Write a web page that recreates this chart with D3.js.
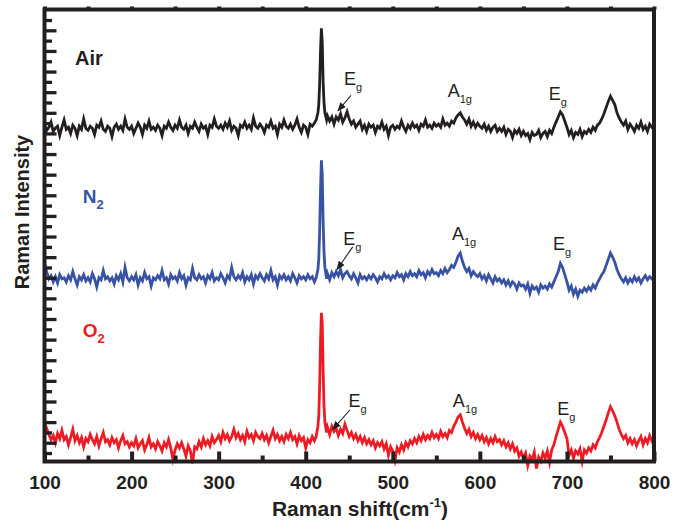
<!DOCTYPE html>
<html>
<head>
<meta charset="utf-8">
<script src="https://cdn.jsdelivr.net/npm/d3@7"></script>
<style>
  html, body { margin: 0; padding: 0; background: #fff; }
  svg { display: block; font-family: "Liberation Sans", Arial, Helvetica, sans-serif; }
</style>
</head>
<body>
<svg id="chart" width="673" height="523"></svg>
<script>
// Raman shift sampling grid (cm^-1), finer across the 418 cm^-1 band
const shift = [
  100,102.5,105,107.5,110,112.5,115,117.5,120,122.5,
  125,127.5,130,132.5,135,137.5,140,142.5,145,147.5,
  150,152.5,155,157.5,160,162.5,165,167.5,170,172.5,
  175,177.5,180,182.5,185,187.5,190,192.5,195,197.5,
  200,202.5,205,207.5,210,212.5,215,217.5,220,222.5,
  225,227.5,230,232.5,235,237.5,240,242.5,245,247.5,
  250,252.5,255,257.5,260,262.5,265,267.5,270,272.5,
  275,277.5,280,282.5,285,287.5,290,292.5,295,297.5,
  300,302.5,305,307.5,310,312.5,315,317.5,320,322.5,
  325,327.5,330,332.5,335,337.5,340,342.5,345,347.5,
  350,352.5,355,357.5,360,362.5,365,367.5,370,372.5,
  375,377.5,380,382.5,385,387.5,390,392.5,395,397.5,
  400,402.5,405,407.5,410,
  412,414,415,416,417,418,419,420,421,422,424,
  425,427.5,430,432.5,435,437.5,440,442.5,445,447.5,
  450,452.5,455,457.5,460,462.5,465,467.5,470,472.5,
  475,477.5,480,482.5,485,487.5,490,492.5,495,497.5,
  500,502.5,505,507.5,510,512.5,515,517.5,520,522.5,
  525,527.5,530,532.5,535,537.5,540,542.5,545,547.5,
  550,552.5,555,557.5,560,562.5,565,567.5,570,572.5,
  575,577.5,580,582.5,585,587.5,590,592.5,595,597.5,
  600,602.5,605,607.5,610,612.5,615,617.5,620,622.5,
  625,627.5,630,632.5,635,637.5,640,642.5,645,647.5,
  650,652.5,655,657.5,660,662.5,665,667.5,670,672.5,
  675,677.5,680,682.5,685,687.5,690,692.5,695,697.5,
  700,702.5,705,707.5,710,712.5,715,717.5,720,722.5,
  725,727.5,730,732.5,735,737.5,740,742.5,745,747.5,
  750,752.5,755,757.5,760,762.5,765,767.5,770,772.5,
  775,777.5,780,782.5,785,787.5,790,792.5,795,797.5,
  800
];

// Spectra (arbitrary units, stacked with vertical offsets)
const airIntensity = [
  31.8,31.3,31.6,32.1,31.2,31.5,31.7,30.8,31.6,32.3,
  31.4,31.6,31.0,31.8,31.5,30.8,31.7,31.4,32.4,31.5,
  31.3,31.7,31.5,30.9,31.8,31.6,32.2,31.4,31.2,31.7,
  31.5,30.7,31.6,31.9,31.4,31.7,31.3,32.4,31.6,31.4,
  31.7,31.0,31.5,32.0,31.6,30.9,31.8,31.5,32.2,31.4,
  31.6,31.3,31.8,31.5,30.8,31.7,31.5,32.1,31.6,31.3,
  31.8,31.5,32.3,31.6,31.4,31.8,31.0,31.7,31.5,32.1,
  31.6,31.2,31.9,31.5,31.7,30.9,31.8,31.6,32.4,31.7,
  31.5,31.8,31.4,32.0,31.6,32.2,31.3,31.7,31.5,30.8,
  31.8,31.6,32.1,31.5,31.8,31.4,32.5,31.7,31.5,31.9,
  31.6,31.1,31.8,31.6,32.2,31.5,31.7,30.9,31.9,31.6,
  32.3,31.7,31.5,31.9,31.4,31.8,32.4,31.6,31.1,31.8,
  31.6,30.9,31.9,31.7,32.0,
  32.3,33.0,33.8,35.8,39.0,41.2,39.8,36.0,34.0,33.0,32.3,
  32.7,32.2,32.6,31.9,32.6,32.3,32.9,32.1,32.5,33.1,
  32.4,31.9,32.2,31.6,31.9,32.2,31.4,31.8,31.2,31.9,
  31.6,31.8,31.1,31.7,31.5,32.1,31.4,31.7,30.8,31.6,
  31.8,31.4,31.7,31.5,32.2,31.6,31.2,31.8,31.5,32.0,
  31.6,31.8,31.3,31.9,31.7,32.3,31.6,31.8,31.5,32.0,
  31.7,31.9,31.6,32.4,31.8,32.0,31.7,32.2,32.0,32.5,
  32.8,33.0,32.6,32.3,31.9,32.4,31.7,32.1,31.6,32.0,
  31.7,31.5,31.9,31.3,31.7,31.2,31.6,31.8,31.2,31.5,
  31.2,31.6,30.9,31.4,31.2,30.6,31.3,31.0,31.4,30.8,
  31.2,30.8,31.0,30.4,31.1,30.8,30.9,31.3,30.6,31.0,
  31.2,30.7,31.3,31.0,31.6,32.1,32.6,33.1,32.8,32.2,
  31.6,30.9,31.3,30.6,31.1,30.9,31.4,30.7,31.2,31.0,
  31.4,31.1,31.6,31.3,31.8,32.0,32.4,32.9,33.5,34.1,
  34.6,34.2,33.8,33.0,32.5,32.1,31.8,32.2,31.4,31.9,
  31.6,31.2,31.8,31.5,32.1,31.4,31.7,31.2,31.9,31.6,
  31.8
];
const n2Intensity = [
  18.4,17.6,16.9,17.2,16.6,17.1,16.5,17.3,16.9,17.0,
  16.6,17.2,16.8,17.6,16.9,16.3,17.1,16.8,17.3,16.7,
  17.0,16.6,17.4,16.9,16.1,17.0,16.8,17.7,16.9,17.1,
  16.7,17.0,16.4,17.2,16.8,17.4,16.6,18.0,17.0,16.7,
  17.1,16.8,17.3,16.3,17.0,16.7,17.5,16.9,17.1,16.2,
  17.0,16.8,17.2,16.9,17.7,16.8,17.0,16.4,17.3,16.9,
  17.1,16.7,17.5,16.9,17.2,16.3,17.0,16.8,17.9,17.0,
  16.8,17.3,16.9,17.1,16.5,17.2,16.9,17.5,16.7,17.0,
  16.8,17.4,17.0,16.5,17.2,16.9,18.0,17.1,16.8,17.2,
  16.9,17.5,16.6,17.1,16.8,17.3,16.4,17.2,16.9,17.4,
  17.0,16.7,17.3,16.9,17.7,16.8,17.1,16.3,17.2,16.9,
  17.3,16.8,17.1,16.7,17.4,17.0,16.5,17.2,16.9,17.1,
  16.8,17.3,16.9,17.1,16.6,
  17.0,17.8,18.8,21.5,25.5,28.4,27.0,22.5,19.5,18.0,16.9,
  17.4,16.8,17.5,17.1,17.6,17.2,17.8,17.0,17.4,17.6,
  17.2,16.9,17.4,17.0,16.5,17.3,16.9,17.1,16.8,17.2,
  16.9,17.3,17.0,16.6,17.1,16.9,17.4,17.0,17.2,16.8,
  17.2,17.0,17.5,17.1,17.3,16.8,17.4,17.1,17.6,17.2,
  17.4,17.1,17.7,17.3,17.5,17.0,17.6,17.3,17.8,17.4,
  17.5,17.2,17.7,17.4,17.9,17.5,17.8,18.2,18.0,18.5,
  19.1,19.4,18.6,18.0,17.6,17.9,17.2,17.6,17.3,17.1,
  17.4,16.9,17.2,16.7,17.3,16.9,16.5,17.1,16.7,16.9,
  16.5,16.8,16.3,16.7,16.2,16.6,16.4,15.9,16.5,16.2,
  16.3,15.9,16.4,15.5,16.2,15.9,16.1,15.6,16.3,16.0,
  16.2,15.9,16.4,16.1,16.6,17.1,17.6,18.4,18.0,17.3,
  16.6,15.8,16.2,15.4,15.9,15.2,15.8,15.6,16.0,15.7,
  16.1,15.8,16.3,16.0,16.5,16.9,17.3,17.6,18.2,18.8,
  19.4,19.0,18.5,17.8,17.3,16.9,16.6,17.0,16.5,16.9,
  16.6,17.1,16.7,17.0,16.5,16.9,17.2,16.8,17.1,16.9,
  17.2
];
const o2Intensity = [
  2.9,2.4,1.8,1.3,1.7,1.0,1.9,1.4,2.2,1.3,
  1.6,0.8,1.5,2.3,1.2,1.7,1.0,1.5,0.6,1.4,
  1.1,1.8,1.3,0.9,1.6,0.7,1.4,2.0,1.1,1.3,
  0.8,1.5,1.0,1.3,0.5,1.2,1.7,0.9,1.1,0.6,
  1.0,0.7,1.4,0.5,0.9,1.2,0.3,0.8,1.5,0.6,
  0.9,0.4,1.1,0.7,0.2,1.0,0.6,1.3,0.5,-0.6,
  0.3,0.9,0.5,1.0,0.4,-0.3,0.7,0.2,-1.0,0.6,
  0.4,1.1,0.6,1.4,0.8,1.2,0.7,1.6,1.0,1.3,
  1.7,1.1,2.0,1.4,1.8,1.2,1.6,2.3,1.5,1.9,
  1.3,1.7,1.1,2.1,1.5,1.8,1.2,2.0,1.6,1.4,
  1.9,1.3,1.7,1.0,1.6,2.2,1.4,1.8,1.2,1.6,
  1.1,1.8,1.4,2.0,1.3,1.6,0.9,1.7,1.2,1.5,
  0.5,1.3,1.0,1.6,1.2,
  1.6,2.6,3.6,6.5,10.8,13.6,12.6,8.0,4.6,3.0,2.0,
  2.5,1.8,2.6,2.1,2.4,1.7,2.3,1.9,2.8,2.2,
  1.6,2.0,1.4,1.8,1.2,1.6,1.0,1.5,0.9,1.3,
  0.8,1.2,0.5,1.0,0.7,1.1,0.4,0.9,-0.2,0.6,
  0.2,-0.7,0.5,0.1,0.8,0.3,1.0,0.6,1.2,0.9,
  1.4,1.0,1.6,1.2,1.8,1.3,1.7,1.4,2.0,1.5,
  1.8,1.4,2.1,1.6,1.9,1.5,2.2,2.0,2.6,3.0,
  3.5,3.7,3.0,2.4,1.9,2.3,1.6,2.0,1.4,1.8,
  1.3,1.7,1.1,1.5,0.9,1.4,1.0,1.6,1.1,1.3,
  0.8,1.2,0.6,1.0,0.4,0.9,0.2,0.5,-0.3,0.1,
  -0.5,0.0,-1.2,-0.3,-0.6,0.1,-1.5,-0.4,-0.8,0.0,
  -0.5,0.2,-0.9,0.3,0.8,1.6,2.3,3.0,2.6,2.0,
  1.4,-0.2,0.3,-0.5,0.2,-0.1,0.4,-0.8,0.3,0.0,
  0.5,0.2,0.8,0.5,1.1,1.5,2.0,2.6,3.2,3.9,
  4.5,4.1,3.6,3.0,2.3,1.8,1.4,1.7,1.0,1.4,
  0.9,1.3,0.7,1.2,1.6,0.8,1.4,1.0,1.7,1.2,
  1.6
];

const seriesNames = ["Air", "N2", "O2"];
const seriesColors = ["#231f20", "#3853a4", "#ed1c24"];
const seriesValues = [airIntensity, n2Intensity, o2Intensity];

// Axis ticks
const xTickValues = [100, 200, 300, 400, 500, 600, 700, 800];
const xMinorTickValues = [150, 250, 350, 450, 550, 650, 750];
const yTickValues = d3.range(0, 43);

// Label anchors in data coordinates (shift, intensity)
const seriesLabelPos = [[135, 37.6], [144, 24.3], [144, 11.25]];
const peakLabels = [
  // [series, main, sub, shift, intensity]
  [0, "E", "g", 444, 35.7], [0, "A", "1g", 563, 34.5], [0, "E", "g", 679, 34.2],
  [1, "E", "g", 443, 20.2], [1, "A", "1g", 568, 20.7], [1, "E", "g", 684, 19.7],
  [2, "E", "g", 449, 4.5],  [2, "A", "1g", 569, 4.5],  [2, "E", "g", 689, 3.7]
];
const arrows = [
  [452, 34.7, 437, 33.2],
  [454, 20.0, 436, 17.8],
  [451, 4.2, 431, 2.3]
];

const svg = d3.select("#chart");
const plotLeft = 44.5, plotRight = 654, plotTop = 9.5, plotBottom = 461.5;

const x = d3.scaleLinear().domain([100, 800]).range([plotLeft, plotRight]);
const y = d3.scaleLinear().domain([-0.82, 43.02]).range([plotBottom, plotTop]);

// Spectra
const line = d3.line()
  .x((d, i) => x(shift[i]))
  .y(d => y(d));

svg.append("g").selectAll("path")
  .data(seriesValues)
  .join("path")
  .attr("d", d => line(d))
  .attr("fill", "none")
  .attr("stroke", (d, i) => seriesColors[i])
  .attr("stroke-width", 2.8)
  .attr("stroke-linejoin", "miter")
  .attr("stroke-miterlimit", 6);

// Frame
const ink = "#231f20";
svg.append("rect")
  .attr("x", plotLeft).attr("y", plotTop)
  .attr("width", plotRight - plotLeft).attr("height", plotBottom - plotTop)
  .attr("fill", "none").attr("stroke", ink).attr("stroke-width", 4);

// Bottom axis: inward ticks
const xAxisMajor = d3.axisBottom(x).tickValues(xTickValues).tickSizeInner(-10).tickSizeOuter(0).tickPadding(14);
const gx = svg.append("g").attr("transform", `translate(0,${plotBottom})`).call(xAxisMajor);
gx.select(".domain").remove();
gx.selectAll(".tick line").attr("stroke", ink).attr("stroke-width", 4);
gx.selectAll(".tick text")
  .attr("fill", ink).attr("font-size", 19).attr("font-weight", "bold")
  .attr("font-family", "Liberation Sans, Arial, sans-serif");

const xAxisMinor = d3.axisBottom(x).tickValues(xMinorTickValues).tickSizeInner(-6).tickSizeOuter(0).tickFormat("");
const gxm = svg.append("g").attr("transform", `translate(0,${plotBottom})`).call(xAxisMinor);
gxm.select(".domain").remove();
gxm.selectAll(".tick line").attr("stroke", ink).attr("stroke-width", 4);

// Top axis: short outward ticks
const xAxisTop = d3.axisTop(x).tickValues(xTickValues.concat(xMinorTickValues)).tickSizeInner(3).tickSizeOuter(0).tickFormat("");
const gxt = svg.append("g").attr("transform", `translate(0,${plotTop})`).call(xAxisTop);
gxt.select(".domain").remove();
gxt.selectAll(".tick line").attr("stroke", ink).attr("stroke-width", 4);

// Left axis: inward ticks, alternating lengths
const yAxis = d3.axisLeft(y).tickValues(yTickValues).tickSizeOuter(0).tickFormat("");
const gy = svg.append("g").attr("transform", `translate(${plotLeft},0)`).call(yAxis);
gy.select(".domain").remove();
gy.selectAll(".tick line")
  .attr("x2", d => (d % 2 === 1 ? 12 : 7.5))
  .attr("stroke", ink).attr("stroke-width", 3.3);

// Axis titles
const xTitle = svg.append("text")
  .attr("x", 360).attr("y", 516)
  .attr("text-anchor", "middle")
  .attr("font-size", 21).attr("font-weight", "bold").attr("fill", ink);
xTitle.append("tspan").text("Raman shift(cm");
xTitle.append("tspan").attr("font-size", 13).attr("dy", -9).text("-1");
xTitle.append("tspan").attr("dy", 9).text(")");

svg.append("text")
  .attr("transform", "translate(29,212) rotate(-90)")
  .attr("text-anchor", "middle")
  .attr("font-size", 20).attr("font-weight", "bold").attr("fill", ink)
  .text("Raman Intensity");

// Series labels
seriesNames.forEach((name, i) => {
  const t = svg.append("text")
    .attr("x", x(seriesLabelPos[i][0])).attr("y", y(seriesLabelPos[i][1]))
    .attr("font-size", name === "Air" ? 20 : 19).attr("font-weight", "bold").attr("fill", seriesColors[i]);
  if (name === "Air") {
    t.text(name);
  } else {
    t.append("tspan").text(name[0]);
    t.append("tspan").attr("font-size", 13).attr("dy", 6).text(name.slice(1));
  }
});

// Peak assignments
peakLabels.forEach(([s, main, sub, sx, sy]) => {
  const t = svg.append("text")
    .attr("x", x(sx)).attr("y", y(sy))
    .attr("font-size", 18).attr("fill", ink);
  t.append("tspan").text(main);
  t.append("tspan").attr("font-size", 11).attr("dy", 6).text(sub);
});

// Arrows pointing at the weak Eg band
const defs = svg.append("defs");
defs.append("marker")
  .attr("id", "head")
  .attr("viewBox", "0 0 10 10").attr("refX", 9).attr("refY", 5)
  .attr("markerWidth", 9).attr("markerHeight", 9)
  .attr("markerUnits", "userSpaceOnUse")
  .attr("orient", "auto")
  .append("path").attr("d", "M0,1 L10,5 L0,9 Z").attr("fill", ink);

svg.append("g").selectAll("line")
  .data(arrows)
  .join("line")
  .attr("x1", d => x(d[0])).attr("y1", d => y(d[1]))
  .attr("x2", d => x(d[2])).attr("y2", d => y(d[3]))
  .attr("stroke", ink).attr("stroke-width", 1.1)
  .attr("marker-end", "url(#head)");
</script>
</body>
</html>
